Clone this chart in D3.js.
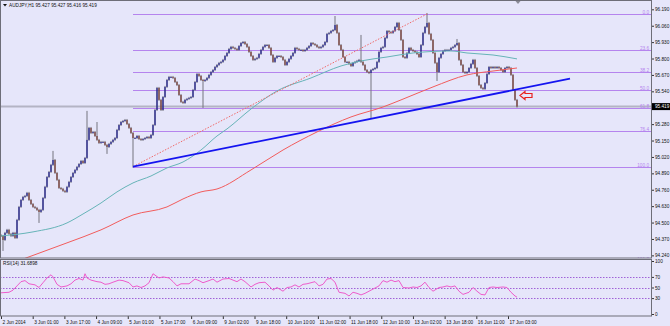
<!DOCTYPE html>
<html>
<head>
<meta charset="utf-8">
<script src="https://d3js.org/d3.v7.min.js"></script>
<style>
  body { margin: 0; background: #e6e6fa; }
  svg { display: block; }
  text { font-family: "Liberation Sans", Arial, sans-serif; }
  .axis path { display: none; }
  .axis line { stroke: #333; }
  .axis text { fill: #111; font-size: 4.7px; }
</style>
</head>
<body>
<svg width="670" height="326"></svg>
<script>
// --- datos (AUDJPY H1) ---
const closes = [
  94.394,94.362,94.418,94.442,94.410,94.394,94.418,94.378,94.521,94.624,
  94.679,94.703,94.711,94.735,94.679,94.647,94.624,94.616,94.600,94.584,
  94.600,94.695,94.783,94.861,94.901,94.957,94.996,94.893,94.838,94.774,
  94.767,94.751,94.743,94.783,94.822,94.861,94.893,94.917,94.941,94.964,
  94.988,94.972,95.012,95.155,95.250,95.210,95.218,95.186,95.155,95.131,
  95.139,95.139,95.115,95.099,95.123,95.139,95.155,95.170,95.234,95.273,
  95.297,95.305,95.313,95.281,95.250,95.210,95.170,95.170,95.186,95.162,
  95.155,95.162,95.170,95.178,95.170,95.194,95.273,95.392,95.567,95.472,
  95.392,95.495,95.575,95.630,95.654,95.654,95.646,95.614,95.590,95.511,
  95.456,95.448,95.472,95.480,95.488,95.495,95.551,95.614,95.677,95.662,
  95.630,95.622,95.630,95.646,95.670,95.693,95.709,95.733,95.749,95.765,
  95.773,95.789,95.820,95.844,95.876,95.892,95.884,95.876,95.868,95.899,
  95.923,95.931,95.915,95.892,95.852,95.820,95.789,95.797,95.805,95.836,
  95.868,95.892,95.907,95.907,95.884,95.828,95.773,95.805,95.820,95.820,
  95.812,95.789,95.749,95.773,95.797,95.820,95.844,95.884,95.876,95.868,
  95.868,95.860,95.868,95.884,95.899,95.923,95.915,95.907,95.892,95.884,
  95.892,95.907,95.931,95.995,96.003,96.018,96.026,96.066,96.003,95.907,
  95.868,95.812,95.773,95.773,95.757,95.741,95.765,95.773,95.781,95.789,
  95.773,95.749,95.709,95.693,95.685,95.709,95.717,95.725,95.773,95.852,
  95.884,95.892,95.963,96.018,96.010,96.003,96.018,96.050,96.082,96.026,
  95.947,95.812,95.805,95.844,95.884,95.868,95.860,95.852,95.836,95.812,
  95.907,96.003,96.050,96.082,95.995,95.947,95.844,95.765,95.693,95.805,
  95.836,95.860,95.868,95.868,95.868,95.884,95.892,95.907,95.923,95.789,
  95.749,95.693,95.685,95.693,95.725,95.757,95.789,95.725,95.662,95.590,
  95.567,95.559,95.606,95.677,95.733,95.725,95.733,95.725,95.733,95.725,
  95.709,95.693,95.725,95.733,95.725,95.670,95.551,95.472,95.419
];
const firstOpen = 94.400;

// mechas largas (barra, maximo, minimo)
const wickBars = [1, 19, 26, 43, 48, 53, 66, 101, 167, 180, 185, 213, 218, 228];
const wickHigh = [null, null, 95.060, 95.377, 95.289, null, null, null, 96.129, 95.979, null, 96.153, null, 95.947];
const wickLow  = [94.283, 94.505, null, null, null, 95.052, 94.943, 95.416, null, null, 95.329, null, 95.630, null];

// medias moviles
const tealBars = [0,16,33,41,50,58,66,75,83,91,100,108,113,125,138,155,170,180,193,206,225,233,246,258];
const tealVals = [94.394,94.426,94.497,94.568,94.655,94.743,94.814,94.869,94.933,94.980,95.075,95.186,95.242,95.400,95.543,95.646,95.741,95.781,95.812,95.844,95.860,95.844,95.828,95.797];
const redBars = [0,14,33,50,66,83,91,100,108,125,141,158,175,191,200,216,233,246,258];
const redVals = [94.148,94.228,94.339,94.442,94.560,94.624,94.687,94.743,94.766,94.917,95.075,95.218,95.337,95.416,95.472,95.575,95.670,95.701,95.725];

// objetos dibujados
const fibLevels = [0, 23.6, 38.2, 50, 61.8, 76.4, 100, 161.8];
const fibHigh = 96.153, fibLow = 94.943, fibStartBar = 66;
const trendBars = [66, 284.5], trendPrices = [94.943, 95.640];
const dotBars = [66, 213], dotPrices = [94.943, 96.153];
const arrowBar = 259.5, arrowPrice = 95.507;
const bidPrice = 95.419;

// RSI(14)
const rsiBars = [0,4,6,8,10,12,14,17,19,21,23,25,26,28,30,33,35,37,39,41,42,43,45,48,50,52,54,56,59,61,64,66,68,70,72,74,76,79,81,84,86,88,90,94,97,99,101,104,106,108,111,114,116,118,120,122,125,127,129,132,134,136,138,141,143,145,147,149,151,153,157,159,161,163,165,167,169,172,174,176,178,180,182,184,186,189,191,193,195,197,199,201,204,206,208,210,212,214,216,219,221,223,225,227,229,231,234,236,238,240,242,244,246,248,251,253,255,257,258];
const rsiVals = [40,41,45,53,61,63,57,55,50,59,68,74,70,56,51,53,57,64,67,64,76,68,64,61,60,56,57,60,64,63,59,51,53,50,53,59,76,68,70,68,61,53,57,57,66,63,59,63,66,60,66,67,64,61,66,61,51,56,59,60,53,45,50,43,50,51,55,51,56,57,61,53,56,66,67,60,41,39,34,41,39,36,39,43,47,53,63,60,64,61,63,50,49,51,50,53,60,50,43,50,51,53,51,53,43,37,41,50,43,37,36,50,51,50,51,50,41,34,31.69];
const rsiLevels = [70, 50, 30];

// etiquetas
const priceTicks = [96.190,96.060,95.930,95.800,95.670,95.540,95.280,95.150,95.020,94.890,94.760,94.630,94.500,94.370,94.240];
const rsiTicks = [100, 70, 50, 30, 0];
const timeBars = [0,16,32,48,64,80,96,112,128,144,160,176,192,208,224,240,256];
const timeLabels = ["2 Jun 2014","3 Jun 01:00","3 Jun 17:00","4 Jun 09:00","5 Jun 01:00","5 Jun 17:00","6 Jun 09:00","9 Jun 02:00","9 Jun 18:00","10 Jun 10:00","11 Jun 02:00","11 Jun 18:00","12 Jun 10:00","13 Jun 02:00","13 Jun 18:00","16 Jun 11:00","17 Jun 03:00"];
const header = "AUDJPY,H1  95.427 95.427 95.416 95.419";
const rsiHeader = "RSI(14) 31.6898";

// --- layout ---
const axisX = 651, mainTop = 1, mainBottom = 258, rsiTop = 259, rsiBottom = 316;
const fibColor = "#b584ee";

const svg = d3.select("svg");
svg.append("rect").attr("width", 670).attr("height", 326).attr("fill", "#e6e6fa");

const x = d3.scaleLinear().domain([0, 258]).range([1, 517]);
// la escala del eje de tiempo de la captura es un poco mas corta (imagen reducida)
const xt = d3.scaleLinear().domain([0, 256]).range([1, 508]);
const y = d3.scaleLinear().domain([94.227, 96.248]).range([257, 2]);
const yr = d3.scaleLinear().domain([0, 100]).range([314, 261]);

svg.append("clipPath").attr("id", "clipMain")
  .append("rect").attr("x", 0).attr("y", mainTop).attr("width", axisX).attr("height", mainBottom - mainTop);
svg.append("clipPath").attr("id", "clipRsi")
  .append("rect").attr("x", 0).attr("y", rsiTop).attr("width", axisX).attr("height", rsiBottom - rsiTop);

const main = svg.append("g").attr("clip-path", "url(#clipMain)");

// linea bid
main.append("line")
  .attr("x1", 0).attr("x2", axisX)
  .attr("y1", y(bidPrice)).attr("y2", y(bidPrice))
  .attr("stroke", "#b4b4c4").attr("stroke-width", 2);

// fibonacci
fibLevels.forEach(l => {
  const p = fibHigh - (fibHigh - fibLow) * l / 100;
  main.append("line")
    .attr("x1", x(fibStartBar)).attr("x2", axisX)
    .attr("y1", Math.round(y(p)) + 0.5).attr("y2", Math.round(y(p)) + 0.5)
    .attr("stroke", fibColor).attr("stroke-width", 1);
  main.append("text")
    .attr("x", axisX - 2).attr("y", Math.round(y(p)) - 0.5)
    .attr("text-anchor", "end")
    .attr("fill", fibColor).style("font-size", "4.7px")
    .text(l.toFixed(1));
});

// velas
const candles = closes.map((c, i) => {
  const o = i === 0 ? firstOpen : closes[i - 1];
  let hi = Math.max(o, c), lo = Math.min(o, c);
  const w = wickBars.indexOf(i);
  if (w >= 0) {
    if (wickHigh[w] !== null) hi = wickHigh[w];
    if (wickLow[w] !== null) lo = wickLow[w];
  }
  return { i, o, c, hi, lo };
});

main.selectAll("line.wick").data(candles).enter()
  .append("line").attr("class", "wick")
  .attr("x1", d => x(d.i)).attr("x2", d => x(d.i))
  .attr("y1", d => y(d.hi) - 1).attr("y2", d => y(d.lo) + 1)
  .attr("stroke", "#74747f").attr("stroke-width", 1);

main.selectAll("rect.body").data(candles).enter()
  .append("rect").attr("class", "body")
  .attr("x", d => x(d.i) - 0.6)
  .attr("width", 1.2)
  .attr("y", d => Math.min(y(d.o), y(d.c)))
  .attr("height", d => Math.max(1, Math.abs(y(d.o) - y(d.c))))
  .attr("fill", d => d.c >= d.o ? "#1c1c8c" : "#7a3a30");

// medias moviles
const maLine = d3.line().x(d => x(d[0])).y(d => y(d[1])).curve(d3.curveMonotoneX);
main.append("path")
  .attr("d", maLine(tealBars.map((b, k) => [b, tealVals[k]])))
  .attr("fill", "none").attr("stroke", "#66b4b8").attr("stroke-width", 1);
main.append("path")
  .attr("d", maLine(redBars.map((b, k) => [b, redVals[k]])))
  .attr("fill", "none").attr("stroke", "#f25c5c").attr("stroke-width", 1);

// lineas de tendencia
main.append("line")
  .attr("x1", x(dotBars[0])).attr("y1", y(dotPrices[0]))
  .attr("x2", x(dotBars[1])).attr("y2", y(dotPrices[1]))
  .attr("stroke", "#f06a6a").attr("stroke-width", 1).attr("stroke-dasharray", "1.5,1.5");
main.append("line")
  .attr("x1", x(trendBars[0])).attr("y1", y(trendPrices[0]))
  .attr("x2", x(trendBars[1])).attr("y2", y(trendPrices[1]))
  .attr("stroke", "#1414f0").attr("stroke-width", 1.8);

// flecha roja
const ax = x(arrowBar), ay = y(arrowPrice);
main.append("path")
  .attr("d", `M${ax},${ay} L${ax + 5},${ay - 4} L${ax + 5},${ay - 2} L${ax + 12},${ay - 2} L${ax + 12},${ay + 2} L${ax + 5},${ay + 2} L${ax + 5},${ay + 4} Z`)
  .attr("fill", "#e6e6fa").attr("stroke", "#e82020").attr("stroke-width", 1.2);

// marcador desplazamiento
svg.append("path")
  .attr("d", `M${x(258.5) - 2.5},1 L${x(258.5) + 2.5},1 L${x(258.5)},4 Z`)
  .attr("fill", "#8a8a96");

// cabecera
svg.append("path").attr("d", "M3,4 L7,4 L5,6.5 Z").attr("fill", "#111");
svg.append("text").attr("x", 9).attr("y", 7).attr("fill", "#111").style("font-size", "4.7px").text(header);

// eje de precios
svg.append("g").attr("class", "axis")
  .attr("transform", `translate(${axisX},0)`)
  .call(d3.axisRight(y).tickValues(priceTicks).tickFormat(d3.format(".3f")).tickSize(3).tickPadding(1));

// etiqueta precio actual
svg.append("rect").attr("x", axisX + 1).attr("y", y(bidPrice) - 3.5).attr("width", 19).attr("height", 7).attr("fill", "#000");
svg.append("text").attr("x", axisX + 4).attr("y", y(bidPrice)).attr("dy", "0.35em")
  .attr("fill", "#fff").style("font-size", "4.7px").text(bidPrice.toFixed(3));

// panel RSI
const rsiG = svg.append("g").attr("clip-path", "url(#clipRsi)");
rsiLevels.forEach(l => {
  rsiG.append("line")
    .attr("x1", 0).attr("x2", axisX)
    .attr("y1", Math.round(yr(l)) + 0.5).attr("y2", Math.round(yr(l)) + 0.5)
    .attr("stroke", "#a062d8").attr("stroke-width", 1).attr("stroke-dasharray", "1.5,1.5");
});
rsiG.append("path")
  .attr("d", d3.line().x((b, k) => x(b)).y((b, k) => yr(rsiVals[k]))(rsiBars))
  .attr("fill", "none").attr("stroke", "#ee5ccc").attr("stroke-width", 1);
svg.append("text").attr("x", 3).attr("y", 265).attr("fill", "#111").style("font-size", "4.7px").text(rsiHeader);

svg.append("g").attr("class", "axis")
  .attr("transform", `translate(${axisX},0)`)
  .call(d3.axisRight(yr).tickValues(rsiTicks).tickSize(3).tickPadding(1));

// eje de tiempo
const tAxis = svg.append("g").attr("class", "axis")
  .attr("transform", `translate(0,${rsiBottom})`)
  .call(d3.axisBottom(xt).tickValues(timeBars).tickFormat((d, k) => timeLabels[k]).tickSize(3).tickPadding(2));
tAxis.selectAll("text").attr("text-anchor", "start").attr("dx", "1");

// bordes
svg.append("rect").attr("x", 0.5).attr("y", 0.5).attr("width", axisX).attr("height", mainBottom - 0.5)
  .attr("fill", "none").attr("stroke", "#6e6e78");
svg.append("rect").attr("x", 0.5).attr("y", rsiTop + 0.5).attr("width", axisX).attr("height", rsiBottom - rsiTop - 0.5)
  .attr("fill", "none").attr("stroke", "#6e6e78");
</script>
</body>
</html>
